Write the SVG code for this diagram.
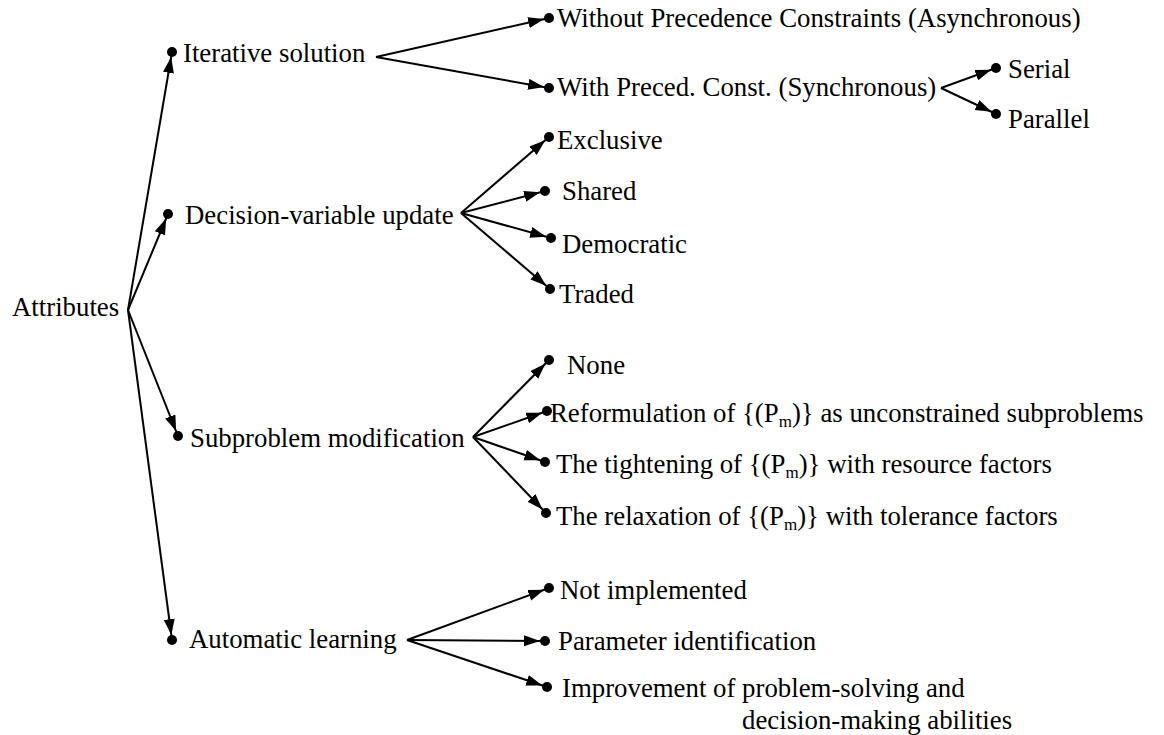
<svg xmlns="http://www.w3.org/2000/svg" width="1164" height="735" viewBox="0 0 1164 735">
<style>
text{font-family:"Liberation Serif","Times New Roman",serif;font-size:26.8px;fill:#000}
.sub{font-size:17px}
.c line{stroke:#000;stroke-width:2;marker-end:url(#a)}
circle{fill:#000}
</style>
<defs>
<marker id="a" markerUnits="userSpaceOnUse" markerWidth="24" markerHeight="12" refX="21" refY="5.5" orient="auto"><path d="M0,0 L16,5.5 L0,11 z" fill="#000"/></marker>
</defs>
<rect width="1164" height="735" fill="#fff"/>
<g class="c" id="connectors">
<line x1="128" y1="310" x2="172" y2="52"/>
<line x1="128" y1="310" x2="168" y2="214"/>
<line x1="128" y1="310" x2="178" y2="436"/>
<line x1="128" y1="310" x2="172" y2="640"/>
<line x1="376" y1="57" x2="549" y2="18"/>
<line x1="376" y1="57" x2="549" y2="88"/>
<line x1="941" y1="88" x2="996" y2="68"/>
<line x1="941" y1="88" x2="996" y2="114"/>
<line x1="461" y1="213" x2="549" y2="137"/>
<line x1="461" y1="213" x2="545" y2="191"/>
<line x1="461" y1="213" x2="551" y2="238"/>
<line x1="461" y1="213" x2="550" y2="289"/>
<line x1="473" y1="437" x2="549" y2="360"/>
<line x1="473" y1="437" x2="547" y2="411"/>
<line x1="473" y1="437" x2="545" y2="462"/>
<line x1="473" y1="437" x2="546" y2="513"/>
<line x1="407" y1="640" x2="549" y2="588"/>
<line x1="407" y1="640" x2="545" y2="641"/>
<line x1="407" y1="640" x2="547" y2="687"/>
</g>
<g id="root"><text x="12" y="316">Attributes</text></g>
<g id="iterative"><circle cx="172" cy="52" r="5"/><text x="183" y="62">Iterative solution</text></g>
<g id="decision"><circle cx="168" cy="214" r="5"/><text x="185" y="224">Decision-variable update</text></g>
<g id="subproblem"><circle cx="178" cy="436" r="5"/><text x="190" y="447">Subproblem modification</text></g>
<g id="learning"><circle cx="172" cy="640" r="5"/><text x="189" y="648">Automatic learning</text></g>
<g id="async"><circle cx="549" cy="18" r="5"/><text x="557" y="27">Without Precedence Constraints (Asynchronous)</text></g>
<g id="sync"><circle cx="549" cy="88" r="5"/><text x="557" y="96">With Preced. Const. (Synchronous)</text></g>
<g id="serial"><circle cx="996" cy="68" r="5"/><text x="1008" y="78">Serial</text></g>
<g id="parallel"><circle cx="996" cy="114" r="5"/><text x="1008" y="128">Parallel</text></g>
<g id="exclusive"><circle cx="549" cy="137" r="5"/><text x="557" y="149">Exclusive</text></g>
<g id="shared"><circle cx="545" cy="191" r="5"/><text x="562" y="200">Shared</text></g>
<g id="democratic"><circle cx="551" cy="238" r="5"/><text x="562" y="253">Democratic</text></g>
<g id="traded"><circle cx="550" cy="289" r="5"/><text x="559" y="303">Traded</text></g>
<g id="none"><circle cx="549" cy="360" r="5"/><text x="567" y="374">None</text></g>
<g id="reform"><circle cx="547" cy="411" r="5"/><text x="550" y="422">Reformulation of {(P<tspan class="sub" dy="5">m</tspan><tspan dy="-5">)} as unconstrained subproblems</tspan></text></g>
<g id="tighten"><circle cx="545" cy="462" r="5"/><text x="556" y="473">The tightening of {(P<tspan class="sub" dy="5">m</tspan><tspan dy="-5">)} with resource factors</tspan></text></g>
<g id="relax"><circle cx="546" cy="513" r="5"/><text x="556" y="525">The relaxation of {(P<tspan class="sub" dy="5">m</tspan><tspan dy="-5">)} with tolerance factors</tspan></text></g>
<g id="notimpl"><circle cx="549" cy="588" r="5"/><text x="560" y="599">Not implemented</text></g>
<g id="param"><circle cx="545" cy="641" r="5"/><text x="558" y="650">Parameter identification</text></g>
<g id="improve"><circle cx="547" cy="687" r="5"/><text x="562" y="697">Improvement of problem-solving and</text><text x="742" y="729">decision-making abilities</text></g>
</svg>
